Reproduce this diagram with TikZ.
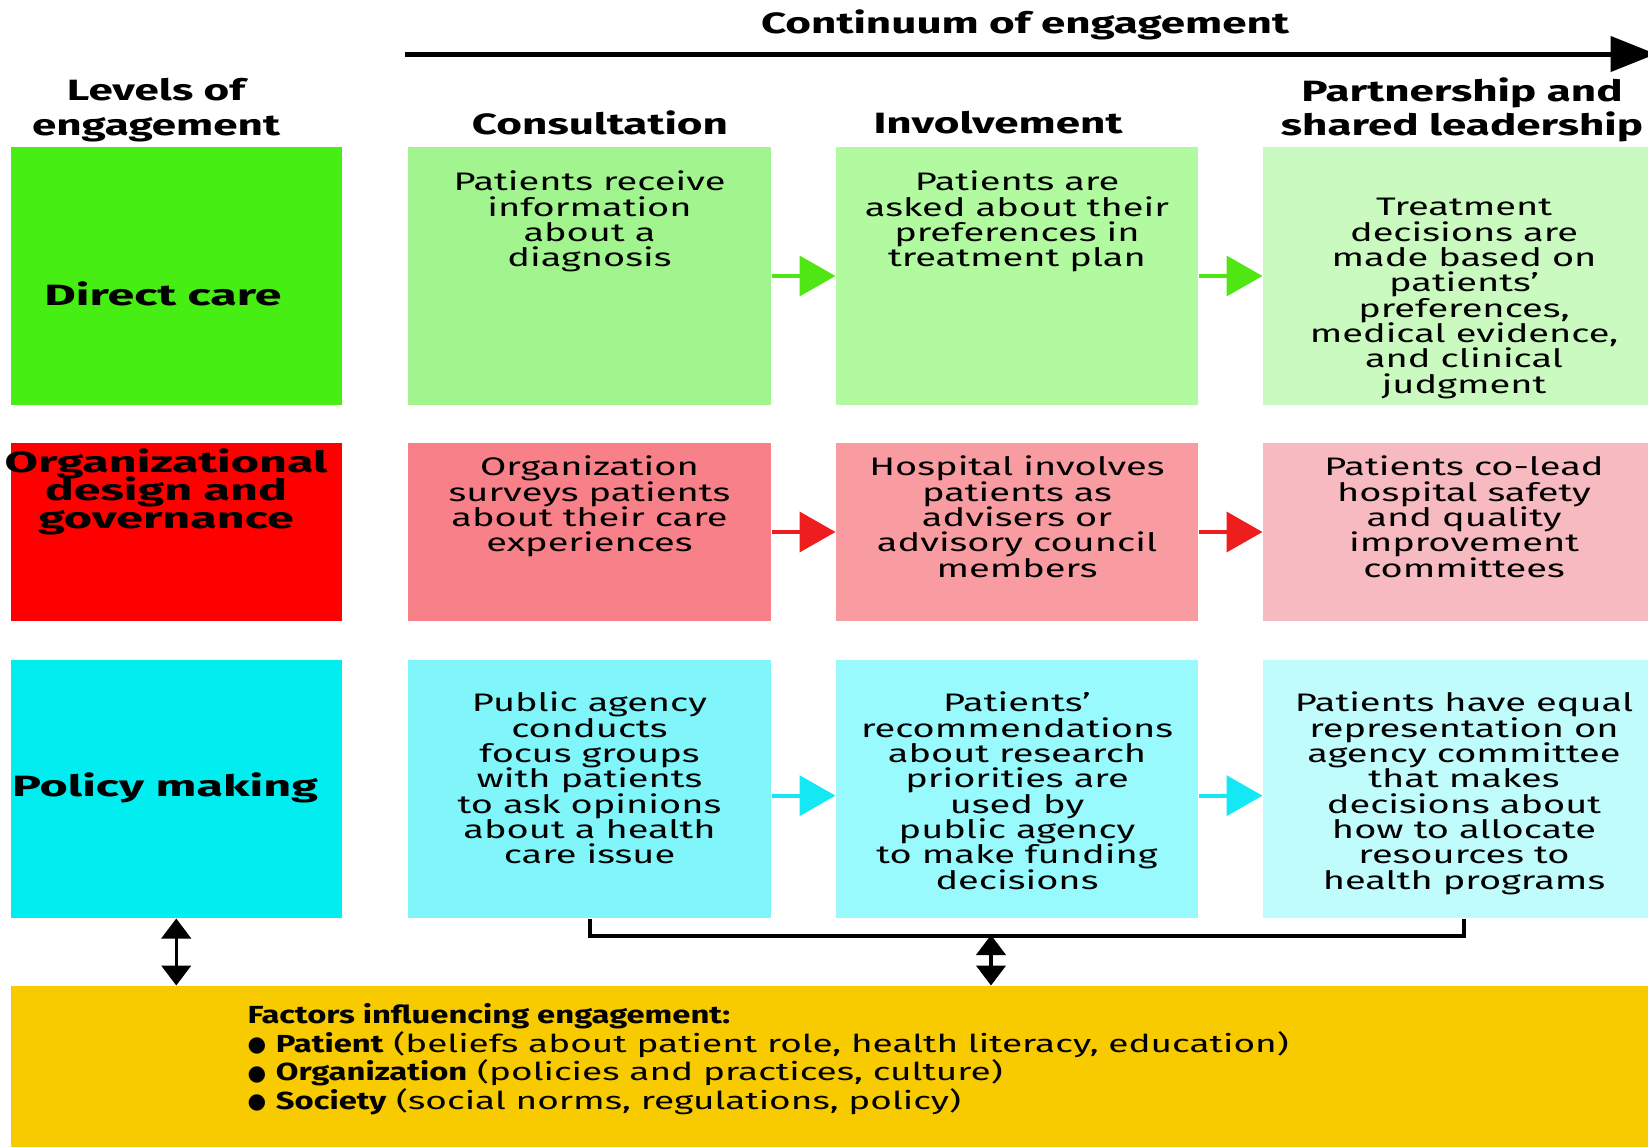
\documentclass[tikz,border=0pt]{standalone}
\usepackage{fontspec}
\setmainfont{Fira Sans}[FakeStretch=1.5]
\newfontfamily\narrowfont{Fira Sans}[FakeStretch=1.33]
\newfontfamily\widefont{Fira Sans}[FakeStretch=1.65]
\newfontfamily\dotfont{DejaVu Sans}
\usetikzlibrary{arrows.meta,positioning}

\definecolor{lvlGreen}{RGB}{70,238,20}
\definecolor{lvlRed}{RGB}{255,0,0}
\definecolor{lvlCyan}{RGB}{0,238,240}
\definecolor{greenA}{RGB}{162,245,142}
\definecolor{greenB}{RGB}{178,250,160}
\definecolor{greenC}{RGB}{202,250,192}
\definecolor{redA}{RGB}{248,128,136}
\definecolor{redB}{RGB}{248,156,162}
\definecolor{redC}{RGB}{248,186,193}
\definecolor{cyanA}{RGB}{128,245,250}
\definecolor{cyanB}{RGB}{152,250,252}
\definecolor{cyanC}{RGB}{192,252,252}
\definecolor{factorYellow}{RGB}{248,202,0}
\definecolor{arrGreen}{RGB}{80,230,20}
\definecolor{arrRed}{RGB}{238,30,30}
\definecolor{arrCyan}{RGB}{20,232,245}

\newcommand{\factorDot}{\raisebox{0.5pt}{\dotfont\fontsize{16}{16}\selectfont ●}}
\newcommand{\lvlFont}{\widefont\bfseries\fontsize{22}{21}\selectfont\lineskiplimit=-20pt\relax}

\tikzset{every picture/.style={line width=0.75pt}}

\begin{document}
\begin{tikzpicture}[x=0.75pt,y=0.75pt,yscale=-1,xscale=1,
	cellbox/.style={rectangle,inner sep=0pt},
	tallrow/.style={minimum height=193.5pt},
	lowrow/.style={minimum height=133.5pt},
	celltext/.style={align=center,inner sep=0pt,font=\fontsize{19}{19}\selectfont},
	headtext/.style={align=center,inner sep=0pt,font=\bfseries\fontsize{22}{26}\selectfont},
	lvltext/.style={align=center,inner sep=0pt,font=\lvlFont},
	stepArrow/.style={line width=3pt,-{Triangle[length=27pt,width=30pt]}},
	linkArrow/.style={line width=2.5pt,{Triangle[length=15pt,width=22pt]}-{Triangle[length=15pt,width=22pt]}}
	]
		\useasboundingbox (0,0) rectangle (1648,1146);
		
		% Text Node
		\node[headtext] (title) at (1025,25) {Continuum of engagement};
		%Straight Lines
		\coordinate (contStart) at (405,54);
		\coordinate (contEnd) at (1656,54);
		\draw[line width=3.75pt,-{Triangle[length=34pt,width=26pt]}] (contStart) -- (contEnd);
		
		% Text Node
		\node[headtext] (hLevels) at (156,110) {Levels of\\engagement};
		\node[headtext] (hConsult) at (600,123) {Consultation};
		\node[headtext] (hInvolve) at (998,123) {Involvement};
		\node[headtext] (hPartner) at (1462,110) {Partnership and\\shared leadership};
		
		%Shape: Rectangle
		\node[cellbox,tallrow,fill=lvlGreen,minimum width=248.6pt] (lvlDirect) at (176.25,276) {};
		\node[cellbox,lowrow,fill=lvlRed,minimum width=248.6pt] (lvlOrg) at (176.25,532) {};
		\node[cellbox,tallrow,fill=lvlCyan,minimum width=248.6pt] (lvlPolicy) at (176.25,789) {};
		% Text Node
		\node[lvltext] (tDirect) at (163,294) {Direct care};
		\node[lvltext] (tOrg) at (166,492) {Organizational\\design and\\governance};
		\node[lvltext] (tPolicy) at (165,788) {Policy making};
		
		%Shape: Rectangle
		\node[cellbox,tallrow,fill=greenA,minimum width=272.25pt] (c11) at (589.5,276) {};
		\node[cellbox,tallrow,fill=greenB,minimum width=271.5pt] (c12) at (1017,276) {};
		\node[cellbox,tallrow,fill=greenC,minimum width=301.5pt] (c13) at (1464,276) {};
		\node[cellbox,lowrow,fill=redA,minimum width=272.25pt] (c21) at (589.5,532) {};
		\node[cellbox,lowrow,fill=redB,minimum width=271.5pt] (c22) at (1017,532) {};
		\node[cellbox,lowrow,fill=redC,minimum width=301.5pt] (c23) at (1464,532) {};
		\node[cellbox,tallrow,fill=cyanA,minimum width=272.25pt] (c31) at (589.5,789) {};
		\node[cellbox,tallrow,fill=cyanB,minimum width=271.5pt] (c32) at (1017,789) {};
		\node[cellbox,tallrow,fill=cyanC,minimum width=301.5pt] (c33) at (1464,789) {};
		
		% Text Node
		\node[celltext,below=18pt of c11.north] (t11) {Patients receive\\information\\about a\\diagnosis};
		\node[celltext,below=18pt of c12.north] (t12) {Patients are\\asked about their\\preferences in\\treatment plan};
		\node[celltext,below=38.5pt of c13.north] (t13) {Treatment\\decisions are\\made based on\\patients’\\preferences,\\medical evidence,\\and clinical\\judgment};
		\node[celltext,below=9.75pt of c21.north] (t21) {Organization\\surveys patients\\about their care\\experiences};
		\node[celltext,below=9.75pt of c22.north] (t22) {Hospital involves\\patients as\\advisers or\\advisory council\\members};
		\node[celltext,below=9.75pt of c23.north] (t23) {Patients co-lead\\hospital safety\\and quality\\improvement\\committees};
		\node[celltext,below=24pt of c31.north] (t31) {Public agency\\conducts\\focus groups\\with patients\\to ask opinions\\about a health\\care issue};
		\node[celltext,below=24pt of c32.north] (t32) {Patients’\\recommendations\\about research\\priorities are\\used by\\public agency\\to make funding\\decisions};
		\node[celltext,below=24pt of c33.north] (t33) {Patients have equal\\representation on\\agency committee\\that makes\\decisions about\\how to allocate\\resources to\\health programs};
		
		%Straight Lines
		\draw[stepArrow,arrGreen] (c11.east) -- (c12.west);
		\draw[stepArrow,arrGreen] (c12.east) -- (c13.west);
		\draw[stepArrow,arrRed] (c21.east) -- (c22.west);
		\draw[stepArrow,arrRed] (c22.east) -- (c23.west);
		\draw[stepArrow,arrCyan] ([yshift=5pt]c31.east) -- ([yshift=5pt]c32.west);
		\draw[stepArrow,arrCyan] ([yshift=5pt]c32.east) -- ([yshift=5pt]c33.west);
		
		%Shape: Rectangle
		\node[cellbox,fill=factorYellow,minimum width=1237pt,minimum height=130.5pt] (factors) at (835.25,1073) {};
		% Text Node
		\node[anchor=north west,align=left,inner sep=0pt,font=\fontsize{18.5}{21.5}\selectfont] (factorText) at (247,1003) {{\narrowfont\bfseries Factors influencing engagement:}\\
			\factorDot\ {\narrowfont\bfseries Patient} (beliefs about patient role, health literacy, education)\\
			\factorDot\ {\narrowfont\bfseries Organization} (policies and practices, culture)\\
			\factorDot\ {\narrowfont\bfseries Society} (social norms, regulations, policy)};
		
		%Straight Lines
		\draw[line width=3pt] (c31.south) -- ++(0,17) -| (c33.south);
		\coordinate (bracketMid) at (991,935);
		\draw[linkArrow] (bracketMid) -- (bracketMid |- factors.north);
		\draw[linkArrow] (lvlPolicy.south) -- (lvlPolicy.south |- factors.north);
\end{tikzpicture}
\end{document}
